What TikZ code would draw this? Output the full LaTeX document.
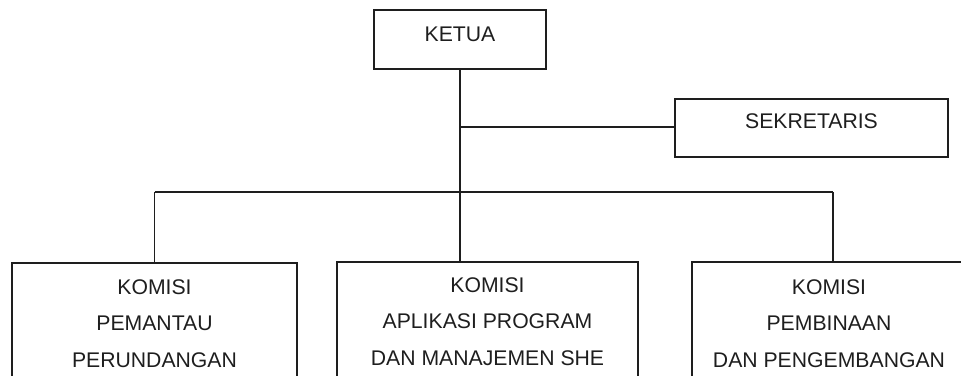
\documentclass[tikz,border=0pt]{standalone}
\usepackage{fontspec}
\setmainfont{Liberation Sans}
\definecolor{ink}{HTML}{1E1E1E}
\begin{document}
\begin{tikzpicture}[x=1pt,y=-1pt,
  box/.style={draw=ink, line width=1.7pt, rectangle, inner sep=0pt},
  txt/.style={text=ink, font=\fontsize{21.2}{36.5}\selectfont, align=center, inner sep=0pt},
  link/.style={draw=ink, line width=1.7pt}]
\useasboundingbox (0,0) rectangle (961,375);
\clip (0,0) rectangle (961,375);
% top boxes
\node[box, minimum width=172pt, minimum height=59pt] (ketua) at (460,39.5) {};
\node[txt, anchor=north] (ketuat) at (460,26.5) {KETUA};
\node[box, minimum width=273pt, minimum height=58pt] (sek) at (811.5,128) {};
\node[txt, anchor=north] (sekt) at (811.5,113.5) {SEKRETARIS};
% bottom boxes (cut by the lower edge)
\node[box, minimum width=285pt, minimum height=160pt, anchor=north] (k1) at (154.5,262) {};
\node[txt, anchor=north] (k1t) at (154.5,279) {KOMISI\\PEMANTAU\\PERUNDANGAN};
\node[box, minimum width=301pt, minimum height=160pt, anchor=north] (k2) at (487.5,261) {};
\node[txt, anchor=north] (k2t) at (487.5,277) {KOMISI\\APLIKASI PROGRAM\\DAN MANAJEMEN SHE};
\node[box, minimum width=290pt, minimum height=160pt, anchor=north west] (k3) at (691,261) {};
\node[txt, anchor=north] (k3t) at (829,279) {KOMISI\\PEMBINAAN\\DAN PENGEMBANGAN};
% connectors
\coordinate (sj) at (460,127);
\coordinate (bl) at (154.5,192);
\coordinate (br) at (833,192);
\draw[link] (ketua.south) -- (ketua.south |- k2.north);
\draw[link] (sj) -- (sek.west |- sj);
\draw[link] (bl) -- (br);
\draw[link] (bl) -- (k1.north);
\draw[link] (br) -- (br |- k3.north);
\end{tikzpicture}
\end{document}
